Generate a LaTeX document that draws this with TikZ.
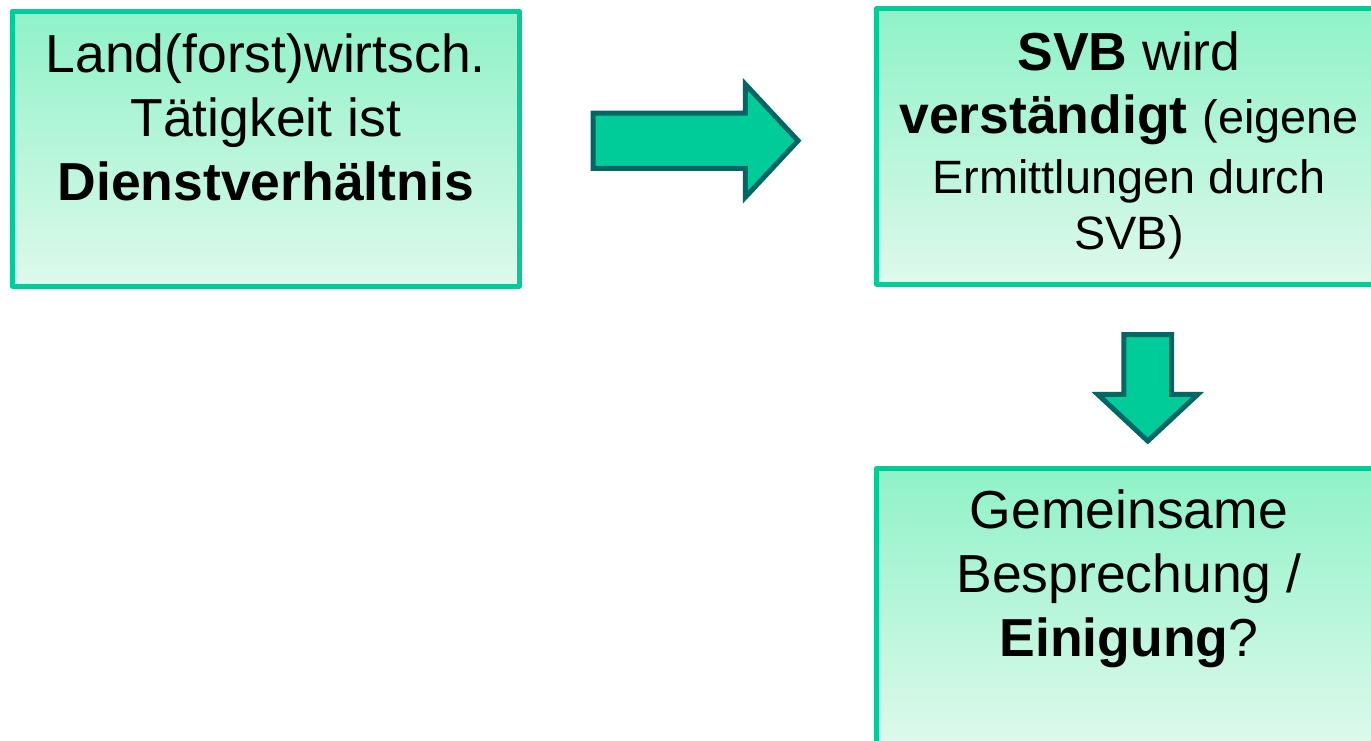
\documentclass[tikz,border=0pt]{standalone}
\usepackage{fontspec}
\setmainfont{Liberation Sans}
\usepackage{tikz}
\usetikzlibrary{shapes.arrows,positioning}

\definecolor{boxline}{RGB}{0,204,153}
\definecolor{boxtop}{RGB}{143,242,200}
\definecolor{boxbottom}{RGB}{222,249,236}
\definecolor{arrowfill}{RGB}{0,204,153}
\definecolor{arrowline}{RGB}{0,102,102}
\newcommand{\lineup}{\rule{0pt}{45pt}}
\newcommand{\minorsize}{\fontsize{46.8}{56}\selectfont}

\begin{document}
\begin{tikzpicture}
[
x=1pt, y=-1pt,
box/.style={rectangle, draw=boxline, line width=5pt, line join=round, top color=boxtop, bottom color=boxbottom, inner sep=0pt, outer sep=0pt},
boxtext/.style={align=center, inner sep=0pt, font=\fontsize{53.5}{64}\selectfont},
flowarrow/.style={single arrow, draw=arrowline, fill=arrowfill, line width=5pt, outer sep=0pt, single arrow tip angle=94, anchor=tail}
]
\useasboundingbox (0,0) rectangle (1371,740);

% boxes
\node[box, minimum width=506.5pt, minimum height=275pt] (land) at (265.75,148.5) {};
\node[box, minimum width=505pt, minimum height=275.5pt] (svb) at (1129,146.25) {};
\node[box, minimum width=505pt, minimum height=275.5pt] (einig) at (1129,606.25) {};

\node[boxtext, below=16pt of land.north] (landtxt) {\lineup Land(forst)wirtsch.\\
	Tätigkeit ist\\
	\textbf{Dienstverhältnis}};
\node[boxtext, below=16.5pt of svb.north] (svbtxt) {\lineup\textbf{SVB} wird\\[-1pt]
	\textbf{verständigt} {\minorsize (eigene}\\[-4pt]
	\minorsize Ermittlungen durch\\[-8pt]
	\minorsize SVB)};
\node[boxtext, below=14.5pt of einig.north] (einigtxt) {\lineup Gemeinsame\\
	Besprechung /\\
	\textbf{Einigung}?};

% arrows
\node[flowarrow, inner sep=25.15pt, single arrow head extend=28.85pt, minimum height=205pt] (arr1) at (593,140.7) {};
\node[flowarrow, rotate=-90, inner sep=21.45pt, single arrow head extend=26pt, minimum height=106.5pt] (arr2) at (1147.75,334.5) {};
\end{tikzpicture}
\end{document}
